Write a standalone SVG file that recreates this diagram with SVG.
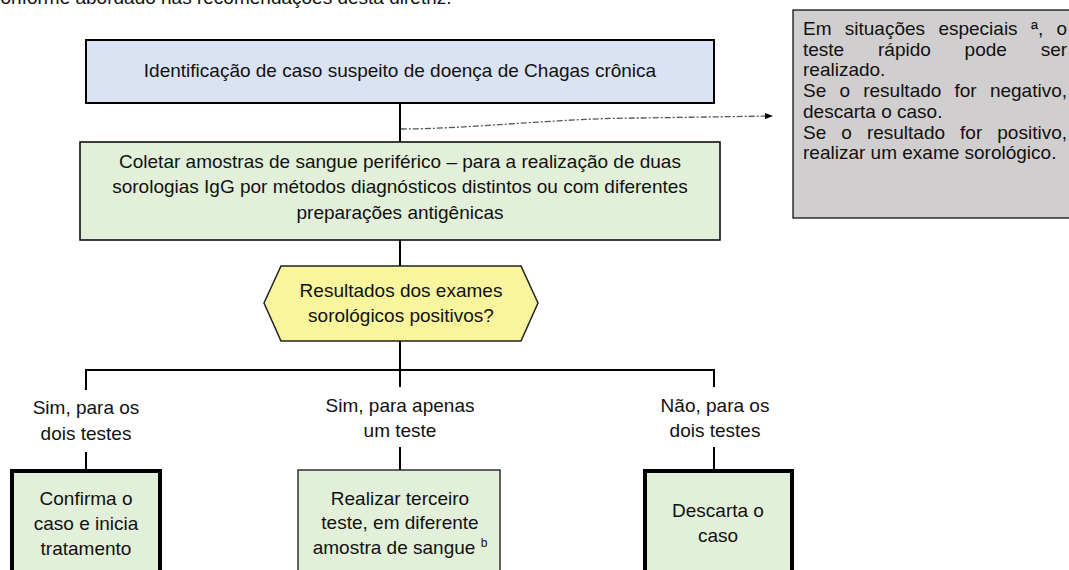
<svg xmlns="http://www.w3.org/2000/svg" width="1069" height="570" viewBox="0 0 1069 570">
<style>
text{font-family:"Liberation Sans",Arial,sans-serif;font-size:19px;fill:#111}
.c{text-anchor:middle}
.ln{stroke:#000;stroke-width:2;fill:none}
.thin{stroke:#000;stroke-width:1.5}
</style>
<defs>
<marker id="ah" markerWidth="8" markerHeight="6" refX="7" refY="3" orient="auto" markerUnits="userSpaceOnUse"><path d="M0,0 L8,3 L0,6 Z" fill="#000"/></marker>
</defs>
<rect width="1069" height="570" fill="#fff"/>
<text x="-9" y="4" font-size="20.5">conforme abordado nas recomendações desta diretriz.</text>

<g id="connectors">
<path class="ln" d="M400,103 V142"/>
<path class="ln" d="M400,240 V266"/>
<path class="ln" d="M400,341 V387"/>
<path class="ln" d="M86,370 H714"/>
<path class="ln" d="M86,369 V390"/>
<path class="ln" d="M714,369 V387"/>
<path class="ln" d="M86,452 V469"/>
<path class="ln" d="M400,447 V470"/>
<path class="ln" d="M714,447 V469"/>
<path d="M401,129 C470,129 560,118 640,118 L772,116" fill="none" stroke="#555" stroke-width="1.3" stroke-dasharray="6,2,2,2" marker-end="url(#ah)"/>
<text class="c" x="86" y="414">Sim, para os</text>
<text class="c" x="86" y="440">dois testes</text>
<text class="c" x="400" y="412">Sim, para apenas</text>
<text class="c" x="400" y="437">um teste</text>
<text class="c" x="715" y="412">Não, para os</text>
<text class="c" x="715" y="437">dois testes</text>
</g>

<g id="n-identificacao">
<rect x="86" y="40" width="628" height="63" fill="#dae3f3" stroke="#000" stroke-width="2"/>
<text class="c" x="400" y="77">Identificação de caso suspeito de doença de Chagas crônica</text>
</g>

<g id="n-coletar">
<rect x="80" y="142" width="640" height="98" fill="#e2efd9" class="thin"/>
<text class="c" x="400" y="168">Coletar amostras de sangue periférico – para a realização de duas</text>
<text class="c" x="400" y="193">sorologias IgG por métodos diagnósticos distintos ou com diferentes</text>
<text class="c" x="400" y="219">preparações antigênicas</text>
</g>

<g id="n-resultados">
<polygon points="281,266 521,266 538,303 521,341 281,341 264,303" fill="#f9f59c" stroke="#222" stroke-width="1.5"/>
<text class="c" x="401" y="297">Resultados dos exames</text>
<text class="c" x="401" y="322">sorológicos positivos?</text>
</g>

<g id="n-nota">
<rect x="793" y="10" width="280" height="208" fill="#d0cece" stroke="#000" stroke-width="1.2"/>
<text y="35"><tspan x="803">Em</tspan><tspan x="844.8">situações</tspan><tspan x="938.4">especiais</tspan><tspan x="1030.9">ª,</tspan><tspan x="1056.5">o</tspan></text>
<text y="55.7"><tspan x="803">teste</tspan><tspan x="878">rápido</tspan><tspan x="964.6">pode</tspan><tspan x="1040.7">ser</tspan></text>
<text x="803" y="76.4">realizado.</text>
<text y="97.1"><tspan x="803">Se</tspan><tspan x="839.4">o</tspan><tspan x="863.2">resultado</tspan><tspan x="954.5">for</tspan><tspan x="989.9">negativo,</tspan></text>
<text x="803" y="117.8">descarta o caso.</text>
<text y="138.5"><tspan x="803">Se</tspan><tspan x="841.3">o</tspan><tspan x="866.9">resultado</tspan><tspan x="960.1">for</tspan><tspan x="997.3">positivo,</tspan></text>
<text x="803" y="159.2">realizar um exame sorológico.</text>
</g>

<g id="n-confirma">
<rect x="12" y="471" width="148" height="130" fill="#e2efd9" stroke="#000" stroke-width="4"/>
<text class="c" x="86" y="505">Confirma o</text>
<text class="c" x="86" y="530">caso e inicia</text>
<text class="c" x="86" y="555">tratamento</text>
</g>

<g id="n-terceiro">
<rect x="298" y="470" width="202" height="130" fill="#e2efd9" stroke="#000" stroke-width="1.2"/>
<text class="c" x="400" y="505">Realizar terceiro</text>
<text class="c" x="400" y="529">teste, em diferente</text>
<text class="c" x="400" y="554">amostra de sangue <tspan font-size="12" dy="-7">b</tspan></text>
</g>

<g id="n-descarta">
<rect x="645" y="471" width="147" height="130" fill="#e2efd9" stroke="#000" stroke-width="4"/>
<text class="c" x="718" y="517">Descarta o</text>
<text class="c" x="718" y="542">caso</text>
</g>
</svg>
